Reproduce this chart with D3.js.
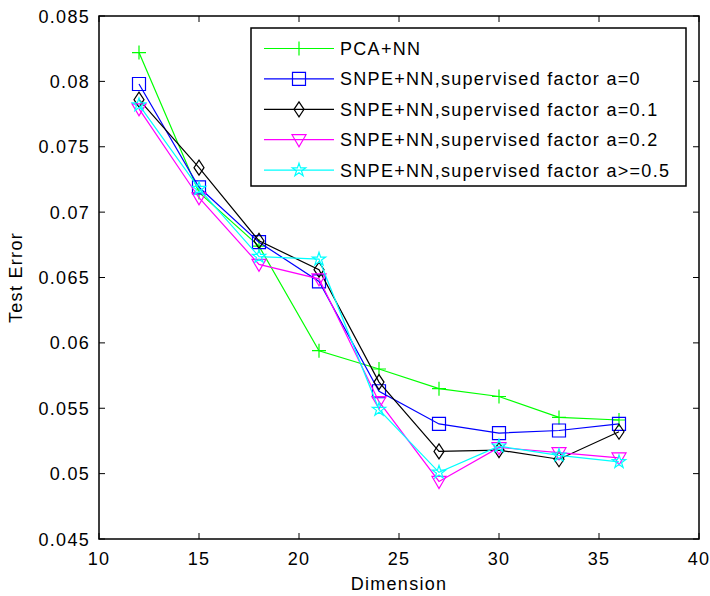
<!DOCTYPE html>
<html><head><meta charset="utf-8">
<script src="https://cdn.jsdelivr.net/npm/d3@7"></script>
<style>
body{margin:0;background:#fff;}
text{font-family:"Liberation Sans",Arial,sans-serif;}
</style></head>
<body><svg id="c" width="710" height="596"></svg>
<script>
const dims = [12,15,18,21,24,27,30,33,36];
const seriesNames = ["PCA+NN","SNPE+NN,supervised factor a=0","SNPE+NN,supervised factor a=0.1","SNPE+NN,supervised factor a=0.2","SNPE+NN,supervised factor a>=0.5"];
const pcaNN   = [0.0822,0.0715,0.0674,0.0594,0.0580,0.0565,0.0559,0.0543,0.0541];
const snpeA0  = [0.0798,0.0719,0.0677,0.0647,0.0563,0.0538,0.0531,0.0533,0.0538];
const snpeA01 = [0.0786,0.0734,0.0678,0.0656,0.0570,0.0517,0.0518,0.0511,0.0532];
const snpeA02 = [0.0779,0.0711,0.0660,0.0649,0.0555,0.0494,0.0520,0.0516,0.0512];
const snpeA05 = [0.0782,0.0718,0.0666,0.0664,0.0549,0.0501,0.0521,0.0514,0.0509];
const xTicks = [10,15,20,25,30,35,40];
const yTicks = [0.045,0.05,0.055,0.06,0.065,0.07,0.075,0.08,0.085];
const colors = ["#00ff00","#0000ff","#000000","#ff00ff","#00ffff"];
const markers = ["plus","square","diamond","triangle","star"];
const allSeries = [pcaNN,snpeA0,snpeA01,snpeA02,snpeA05];

const svg = d3.select("#c");
const L=99,R=699,T=16,B=539;
const x = d3.scaleLinear().domain([10,40]).range([L,R]);
const y = d3.scaleLinear().domain([0.045,0.085]).range([B,T]);
const fs = "18px", ls = "1.3px";

function markerPath(m){
  if(m==="plus") return "M-7,0H7M0,-7V7";
  if(m==="square") return "M-6.5,-6.5H6.5V6.5H-6.5Z";
  if(m==="diamond") return "M0,-7.5L5,0L0,7.5L-5,0Z";
  if(m==="triangle") return "M-7,-5H7L0,7Z";
  return d3.symbol().type(d3.symbolStar).size(55)();
}

// frame
svg.append("rect").attr("x",L).attr("y",T).attr("width",R-L).attr("height",B-T)
  .attr("fill","#fff").attr("stroke","#000").attr("stroke-width",1.5);

// ticks
const g = svg.append("g");
xTicks.forEach(t=>{
  g.append("line").attr("x1",x(t)).attr("x2",x(t)).attr("y1",B).attr("y2",B-6).attr("stroke","#000");
  g.append("line").attr("x1",x(t)).attr("x2",x(t)).attr("y1",T).attr("y2",T+6).attr("stroke","#000");
  g.append("text").attr("x",x(t)).attr("y",B+26).attr("text-anchor","middle")
   .style("font-size",fs).style("letter-spacing",ls).text(d3.format("d")(t));
});
yTicks.forEach(t=>{
  g.append("line").attr("x1",L).attr("x2",L+6).attr("y1",y(t)).attr("y2",y(t)).attr("stroke","#000");
  g.append("line").attr("x1",R).attr("x2",R-6).attr("y1",y(t)).attr("y2",y(t)).attr("stroke","#000");
  g.append("text").attr("x",L-9).attr("y",y(t)+6.5).attr("text-anchor","end")
   .style("font-size",fs).style("letter-spacing",ls).text(String(+t.toFixed(3)));
});
svg.append("text").attr("x",(L+R)/2).attr("y",590).attr("text-anchor","middle")
  .style("font-size",fs).style("letter-spacing",ls).text("Dimension");
svg.append("text").attr("transform",`translate(22,${(T+B)/2}) rotate(-90)`).attr("text-anchor","middle")
  .style("font-size",fs).style("letter-spacing",ls).text("Test Error");

// lines & markers
const line = d3.line().x((d,i)=>x(dims[i])).y(d=>y(d));
allSeries.forEach((s,k)=>{
  svg.append("path").attr("d",line(s)).attr("fill","none").attr("stroke",colors[k]).attr("stroke-width",1.2);
  svg.selectAll(null).data(s).enter().append("path")
    .attr("transform",(d,i)=>`translate(${x(dims[i])},${y(d)})`)
    .attr("d",markerPath(markers[k])).attr("fill","none").attr("stroke",colors[k]).attr("stroke-width",1.2);
});

// legend
const lg = svg.append("g");
lg.append("rect").attr("x",251).attr("y",28).attr("width",435).attr("height",158)
  .attr("fill","#fff").attr("stroke","#000").attr("stroke-width",1.5);
seriesNames.forEach((n,k)=>{
  const yy = 48.5 + k*30.4;
  lg.append("line").attr("x1",264).attr("x2",334).attr("y1",yy).attr("y2",yy).attr("stroke",colors[k]).attr("stroke-width",1.2);
  lg.append("path").attr("transform",`translate(299,${yy})`).attr("d",markerPath(markers[k]))
    .attr("fill","none").attr("stroke",colors[k]).attr("stroke-width",1.2);
  lg.append("text").attr("x",340).attr("y",yy+6.5).style("font-size",fs).style("letter-spacing",ls).text(n);
});
</script></body></html>
